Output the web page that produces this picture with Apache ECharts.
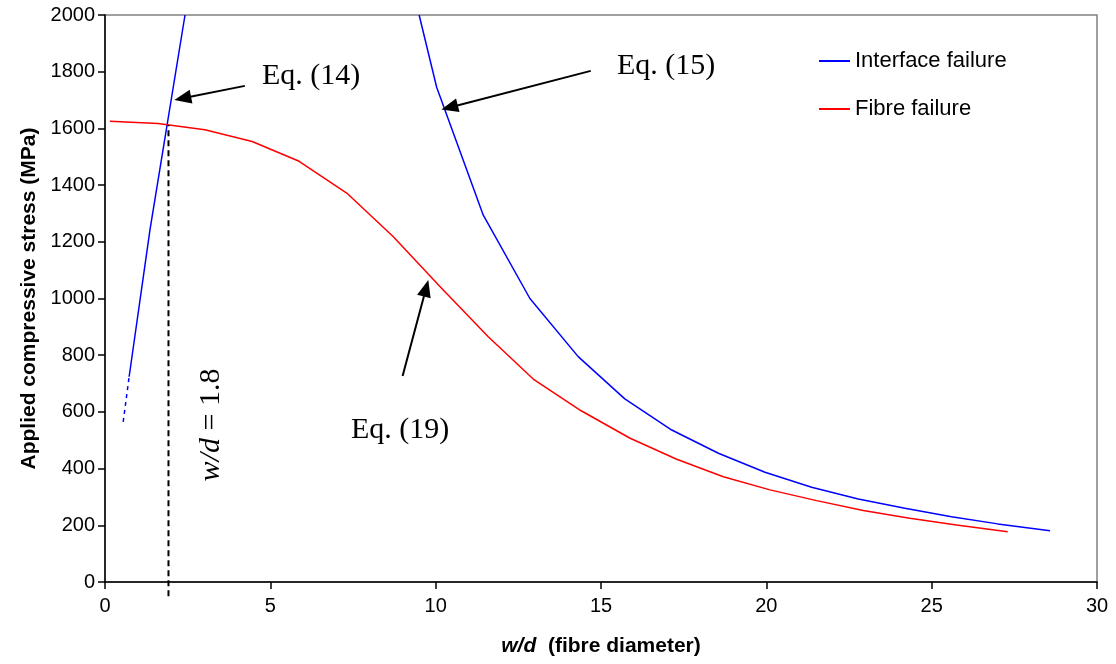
<!DOCTYPE html>
<html>
<head>
<meta charset="utf-8">
<script src="https://cdn.jsdelivr.net/npm/echarts@6/dist/echarts.min.js"></script>
<style>
  html, body { margin: 0; padding: 0; background: #fff; }
  #chart { width: 1116px; height: 664px; }
</style>
</head>
<body>
<div id="chart"></div>
<script>
// fibre failure, Eq. (19)
const fibreX = [0.15, 1.6, 3.02, 4.45, 5.87, 7.31, 8.72, 10.15, 11.59, 12.95, 14.4, 15.88, 17.29, 18.7, 20.11, 21.52, 22.93, 24.34, 25.75, 27.3]
const fibreY = [1625, 1617, 1595, 1554, 1484, 1372, 1218, 1040, 865, 716, 604, 507, 433, 371, 325, 287, 252, 225, 201, 177]

// interface failure, Eq. (15) branch
const ifaceX = [9.5, 10.03, 11.44, 12.85, 14.31, 15.72, 17.14, 18.55, 19.96, 21.37, 22.78, 24.19, 25.6, 27.0, 28.58]
const ifaceY = [2000, 1745, 1294, 1000, 795, 646, 536, 454, 387, 334, 293, 260, 230, 205, 181]

// interface failure, Eq. (14) branch (first bit dashed)
const lowX = [0.73, 1.36, 2.42]
const lowY = [724, 1242, 2000]
const lowDashX = [0.55, 0.73]
const lowDashY = [565, 724]

// w/d = 1.8 marker line
const markX = 1.92
const markTop = 1612

// arrows [tailX, tailY, headX, headY] (head = centre of the arrow head)
const arrows = [
  [4.23, 1750, 2.35, 1706],
  [14.69, 1803, 10.42, 1674],
  [9.0, 727, 9.71, 1036]
]

const xTicks = { min: 0, max: 30, interval: 5 }
const yTicks = { min: 0, max: 2000, interval: 200 }

const zip = (xs, ys) => xs.map((x, i) => [x, ys[i]])

const chart = echarts.init(document.getElementById('chart'))

const sans = 'Liberation Sans, Arial, sans-serif'
const serif = 'Liberation Serif, Times New Roman, serif'

const option = {
  animation: false,
  grid: {
    left: 105, right: 19, top: 15, bottom: 82,
    show: true,
    borderColor: '#808080',
    borderWidth: 1.5
  },
  legend: {
    data: ['Interface failure', 'Fibre failure'],
    orient: 'vertical',
    left: 814,
    top: 45,
    icon: 'rect',
    itemWidth: 31,
    itemHeight: 2,
    itemGap: 26,
    textStyle: { fontFamily: sans, fontSize: 22, color: '#000' }
  },
  xAxis: {
    type: 'value',
    min: xTicks.min, max: xTicks.max, interval: xTicks.interval,
    splitLine: { show: false },
    axisLine: { lineStyle: { color: '#000', width: 1.5 } },
    axisTick: { inside: false, length: 7, lineStyle: { color: '#000', width: 1.5 } },
    axisLabel: { fontFamily: sans, fontSize: 20, color: '#000', margin: 14 },
    name: '{i|w/d}{b|  (fibre diameter)}',
    nameLocation: 'middle',
    nameGap: 54,
    nameTextStyle: {
      rich: {
        i: { fontFamily: sans, fontSize: 21, fontWeight: 'bold', fontStyle: 'italic', color: '#000' },
        b: { fontFamily: sans, fontSize: 21, fontWeight: 'bold', color: '#000' }
      }
    }
  },
  yAxis: {
    type: 'value',
    min: yTicks.min, max: yTicks.max, interval: yTicks.interval,
    splitLine: { show: false },
    axisLine: { show: true, lineStyle: { color: '#000', width: 1.5 } },
    axisTick: { show: true, inside: false, length: 7, lineStyle: { color: '#000', width: 1.5 } },
    axisLabel: { fontFamily: sans, fontSize: 20, color: '#000', margin: 10, formatter: v => String(v) },
    name: 'Applied compressive stress (MPa)',
    nameLocation: 'middle',
    nameGap: 58,
    nameTextStyle: { fontFamily: sans, fontSize: 21, fontWeight: 'bold', color: '#000' }
  },
  series: [
    {
      name: 'Interface failure',
      type: 'line',
      data: zip(ifaceX, ifaceY),
      symbol: 'none',
      lineStyle: { color: '#0000ff', width: 1.5 },
      itemStyle: { color: '#0000ff' }
    },
    {
      name: 'Interface low',
      type: 'line',
      data: zip(lowX, lowY),
      symbol: 'none',
      lineStyle: { color: '#0000ff', width: 1.5 }
    },
    {
      name: 'Interface low dashed',
      type: 'line',
      data: zip(lowDashX, lowDashY),
      symbol: 'none',
      lineStyle: { color: '#0000ff', width: 1.5, type: [4, 4] }
    },
    {
      name: 'Fibre failure',
      type: 'line',
      data: zip(fibreX, fibreY),
      symbol: 'none',
      lineStyle: { color: '#ff0000', width: 1.5 },
      itemStyle: { color: '#ff0000' }
    },
    {
      name: 'w/d marker',
      type: 'line',
      data: [[markX, -50], [markX, markTop]],
      symbol: 'none',
      clip: false,
      lineStyle: { color: '#000', width: 2, type: [6, 4] }
    },
    {
      name: 'arrows',
      type: 'line',
      data: [[0, -100]],
      symbol: 'none',
      silent: true,
      lineStyle: { opacity: 0 },
      markLine: {
        silent: true,
        symbol: ['none', 'triangle'],
        symbolSize: [14, 17],
        label: { show: false },
        itemStyle: { color: '#000' },
        lineStyle: { color: '#000', width: 2, type: 'solid' },
        data: arrows.map(a => [{ coord: [a[0], a[1]] }, { coord: [a[2], a[3]] }])
      }
    }
  ],
  graphic: [
    { type: 'text', x: 262, y: 76, style: { text: 'Eq. (14)', font: '30px ' + serif, fill: '#000', verticalAlign: 'middle' } },
    { type: 'text', x: 617, y: 66, style: { text: 'Eq. (15)', font: '30px ' + serif, fill: '#000', verticalAlign: 'middle' } },
    { type: 'text', x: 351, y: 430, style: { text: 'Eq. (19)', font: '30px ' + serif, fill: '#000', verticalAlign: 'middle' } },
    {
      type: 'text', x: 211, y: 425, rotation: Math.PI / 2,
      style: {
        text: '{i|w/d} = 1.8',
        font: '30px ' + serif,
        fill: '#000',
        align: 'center',
        verticalAlign: 'middle',
        rich: { i: { fontFamily: serif, fontSize: 30, fontStyle: 'italic' } }
      }
    }
  ]
}

chart.setOption(option)
</script>
</body>
</html>
